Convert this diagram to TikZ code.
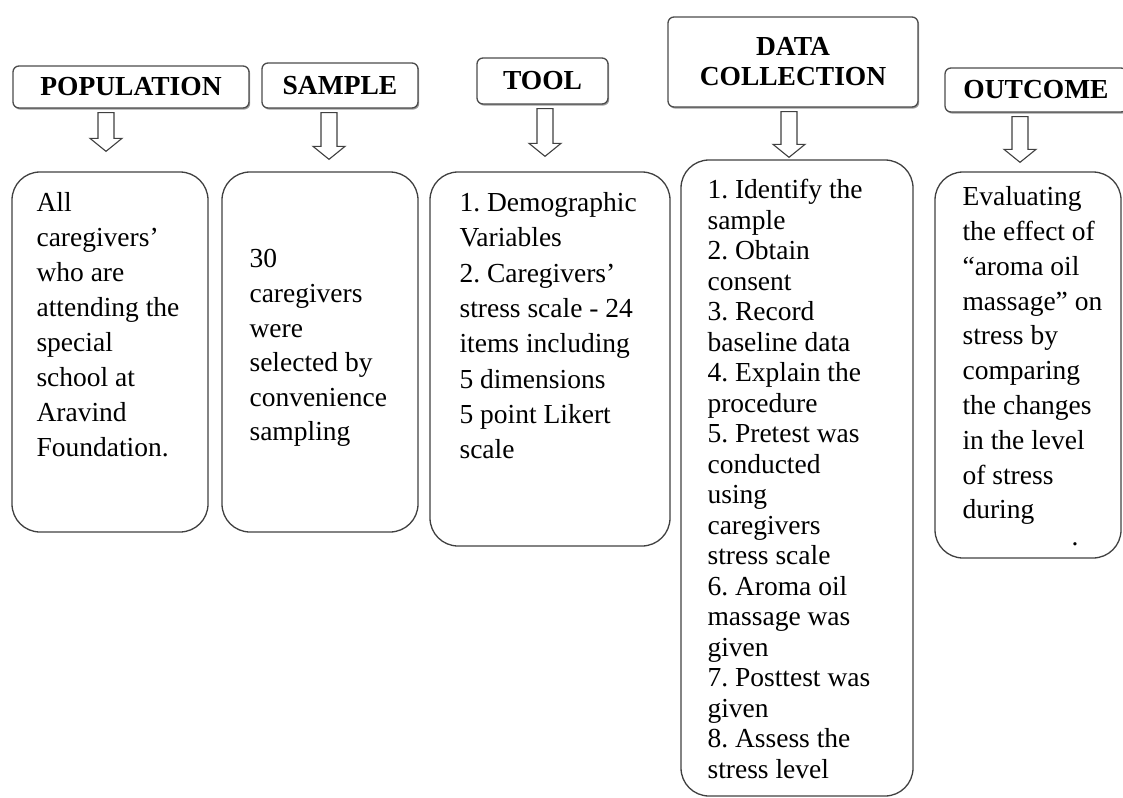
\documentclass[tikz,border=0pt]{standalone}
\usepackage{fontspec}
\setmainfont{Liberation Serif}
\usetikzlibrary{shadows}
\frenchspacing
\newcommand{\bodyfont}[1]{\fontsize{27.5}{#1}\selectfont}
\tikzset{
  headbox/.style={draw=black!70, line width=1.3pt, rounded corners=6pt, fill=white,
    drop shadow={shadow xshift=1.2pt, shadow yshift=-1.6pt, fill=black!55, opacity=0.7},
    inner sep=0pt, align=center, font=\bfseries\fontsize{27.5}{30}\selectfont},
  bodybox/.style={draw=black!75, line width=1.3pt, rounded corners=28pt, inner sep=0pt},
  bodytext/.style={anchor=north west, align=left, inner sep=0pt},
  holarrow/.style={draw=black!75, line width=1.1pt, fill=white, line join=miter}
}
\begin{document}
\begin{tikzpicture}[x=1pt,y=-1pt]
	\useasboundingbox (0,0) rectangle (1123,797);
	\clip (0,0) rectangle (1123,797);
	% headings
	\node[headbox, minimum width=236pt, minimum height=42pt] (popH) at (131,87) {POPULATION};
	\node[headbox, minimum width=156pt, minimum height=45pt] (smpH) at (340,85.5) {SAMPLE};
	\node[headbox, minimum width=131pt, minimum height=46pt] (toolH) at (542.5,81) {TOOL};
	\node[headbox, minimum width=250pt, minimum height=90pt] (dataH) at (793,62) {DATA\\COLLECTION};
	\node[headbox, minimum width=182pt, minimum height=44pt] (outH) at (1036,90) {OUTCOME};
	% boxes
	\node[bodybox, minimum width=196pt, minimum height=360pt] (popB) at (110,352) {};
	\node[bodybox, minimum width=196pt, minimum height=360pt] (smpB) at (320,352) {};
	\node[bodybox, minimum width=240pt, minimum height=374pt] (toolB) at (550,359) {};
	\node[bodybox, minimum width=232pt, minimum height=636pt] (dataB) at (797,478) {};
	\node[bodybox, minimum width=186pt, minimum height=386pt] (outB) at (1028,365) {};
	% texts
	\node[bodytext, font=\bodyfont{35}] (popT) at ([shift={(25,21)}]popB.north west)
		{All\\caregivers’\\who are\\attending the\\special\\school at\\Aravind\\Foundation.};
	\node[bodytext, font=\bodyfont{34.6}] (smpT) at ([shift={(28,78)}]smpB.north west)
		{30\\caregivers\\were\\selected by\\convenience\\sampling};
	\node[bodytext, font=\bodyfont{35.3}] (toolT) at ([shift={(30,21)}]toolB.north west)
		{1. Demographic\\Variables\\2. Caregivers’\\stress scale - 24\\items including\\5 dimensions\\5 point Likert\\scale};
	\node[bodytext, font=\bodyfont{30.5}] (dataT) at ([shift={(27,20)}]dataB.north west)
		{1. Identify the\\sample\\2. Obtain\\consent\\3. Record\\baseline data\\4. Explain the\\procedure\\5. Pretest was\\conducted\\using\\caregivers\\stress scale\\6. Aroma oil\\massage was\\given\\7. Posttest was\\given\\8. Assess the\\stress level};
	\node[bodytext, font=\bodyfont{34.8}] (outT) at ([shift={(28,15)}]outB.north west)
		{Evaluating\\the effect of\\“aroma oil\\massage” on\\stress by\\comparing\\the changes\\in the level\\of stress\\during};
	\node[inner sep=0pt, anchor=base, font=\bodyfont{34.8}] (outDot) at ([shift={(47,-13)}]outB.south) {.};
	% arrows
	\foreach \hd/\bd/\ax/\gp in {popH/popB/106/20, smpH/smpB/329/12, toolH/toolB/545/15, dataH/dataB/789/2, outH/outB/1020/9}{
		\coordinate (ac) at (\ax,0);
		\coordinate (at) at (ac |- \hd.south);
		\coordinate (ab) at (ac |- \bd.north);
		\draw[holarrow] ([shift={(-8,4)}]at) -- ([shift={(-8,{-\gp-13})}]ab)
			-- ([shift={(-16,{-\gp-13})}]ab) -- ([shift={(0,-\gp)}]ab)
			-- ([shift={(16,{-\gp-13})}]ab) -- ([shift={(8,{-\gp-13})}]ab)
			-- ([shift={(8,4)}]at) -- cycle;
	}
\end{tikzpicture}
\end{document}
